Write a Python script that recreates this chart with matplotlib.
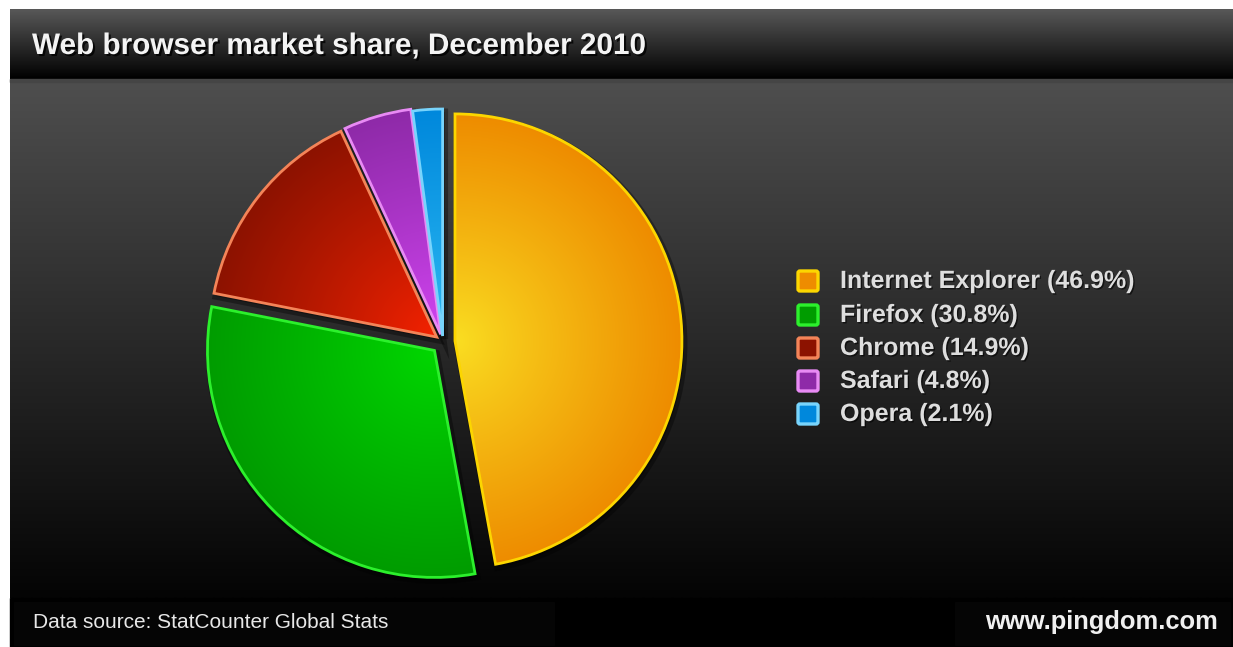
import numpy as np
import matplotlib
matplotlib.use("Agg")
from matplotlib import pyplot as plt
from matplotlib import patches as mpatches
from matplotlib import patheffects as pe
from matplotlib.colors import to_rgb

browsers = ["Internet Explorer", "Firefox", "Chrome", "Safari", "Opera"]
shares = [46.9, 30.8, 14.9, 4.8, 2.1]
# gradient colours (near tip -> outer rim) and outline colour per slice
inner_colors = ["#fadf22", "#00d800", "#f62200", "#d244f2", "#2ebcf4"]
outer_colors = ["#ee8c00", "#009c00", "#8c1200", "#8e2aa8", "#0088dc"]
edge_colors = ["#fcd600", "#2cf02c", "#f48458", "#e88af4", "#78d4fc"]

title = "Web browser market share, December 2010"
source = "Data source: StatCounter Global Stats"
site = "www.pingdom.com"

W, H = 1233, 647
fig = plt.figure(figsize=(W / 100, H / 100), dpi=100)
fig.patch.set_facecolor("white")
ax = fig.add_axes([0, 0, 1, 1])
ax.set_axis_off()


def Y(y):
    # image row -> data y (y axis points up)
    return H - y


def vgrad(x0, x1, y0, y1, c_top, c_bot, z=0):
    g = np.linspace(0, 1, 256)[:, None, None]
    img = np.array(to_rgb(c_top)) * (1 - g) + np.array(to_rgb(c_bot)) * g
    img = np.repeat(img, 2, axis=1)
    ax.imshow(img, extent=(x0, x1, Y(y1), Y(y0)), aspect="auto",
              interpolation="bilinear", zorder=z)


# background panels
vgrad(10, W, 9, 79, "#585858", "#000000")
ax.add_patch(mpatches.Rectangle((10, Y(82)), W - 10, 3, color="#454545", zorder=1))
vgrad(10, W, 82, 598, "#4e4e4e", "#040404")
ax.add_patch(mpatches.Rectangle((10, 0), W - 10, Y(598), color="#000000", zorder=1))
ax.add_patch(mpatches.Rectangle((14, 2), 540, Y(602) - 2, color="#050505", zorder=1))
ax.add_patch(mpatches.Rectangle((955, 2), W - 958, Y(602) - 2, color="#050505", zorder=1))

# pie
cx, cy, R = 443, Y(342), 227
wedges, _ = ax.pie(shares, startangle=90, counterclock=False, radius=R,
                   center=(cx, cy), explode=[12, 12, 8, 8, 6],
                   wedgeprops=dict(linewidth=2.0))
for w, ci, co, ce in zip(wedges, inner_colors, outer_colors, edge_colors):
    tx, ty = w.center
    sh = mpatches.Wedge((tx + 2, ty - 3), w.r, w.theta1, w.theta2,
                        facecolor="black", edgecolor="black", lw=5, alpha=0.35, zorder=2)
    ax.add_patch(sh)
    n = 300
    xs = np.linspace(tx - R, tx + R, n)
    ys = np.linspace(ty + R, ty - R, n)
    gx, gy = np.meshgrid(xs, ys)
    t = np.clip(np.hypot(gx - tx, gy - ty) / R, 0, 1)[..., None] ** 0.9
    img = np.array(to_rgb(ci)) * (1 - t) + np.array(to_rgb(co)) * t
    im = ax.imshow(img, extent=(tx - R, tx + R, ty - R, ty + R), zorder=3,
                   interpolation="bilinear")
    im.set_clip_path(w)
    w.set_facecolor("none")
    w.set_edgecolor(ce)
    w.set_zorder(4)

# legend
leg_y = [281, 315, 348, 381, 414]
for yy, name, val, ci, co, ce in zip(leg_y, browsers, shares, inner_colors, outer_colors, edge_colors):
    box = mpatches.FancyBboxPatch((798, Y(yy) - 10), 20, 20,
                                  boxstyle="round,pad=0,rounding_size=2",
                                  facecolor=co, edgecolor=ce, lw=2.4, zorder=5)
    ax.add_patch(box)
    ax.text(840, Y(yy), f"{name} ({val}%)", color="#dedede", fontsize=18,
            fontweight="bold", family="Liberation Sans", va="center", ha="left",
            zorder=6, path_effects=[pe.withSimplePatchShadow(offset=(1, -1), shadow_rgbFace="black", alpha=0.6)])

ax.text(32, Y(46), title, color="#f4f4f4", fontsize=21.4, fontweight="bold",
        family="Liberation Sans", va="center", ha="left", zorder=6,
        path_effects=[pe.withSimplePatchShadow(offset=(1.5, -1.5), shadow_rgbFace="black", alpha=0.8)])
ax.text(33, Y(622), source, color="#e8e8e8", fontsize=15, family="Liberation Sans",
        va="center", ha="left", zorder=6)
ax.text(1218, Y(622), site, color="#f0f0f0", fontsize=18.4, fontweight="bold",
        family="Liberation Sans", va="center", ha="right", zorder=6)

ax.set_xlim(0, W)
ax.set_ylim(0, H)
ax.set_aspect("auto")
fig.savefig("out.png", dpi=100, facecolor=fig.get_facecolor())
